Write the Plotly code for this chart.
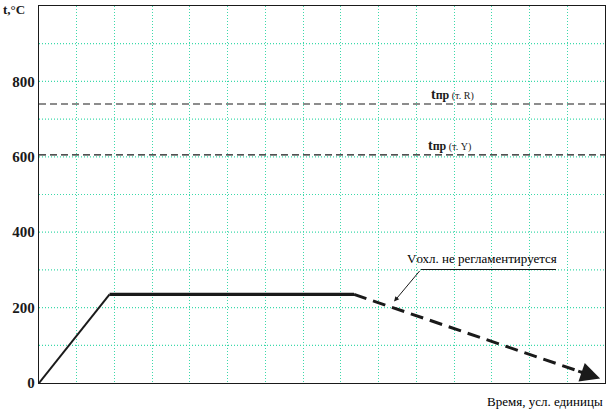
import plotly.graph_objects as go

# ---- data ----
heat_time = [0, 1.87]
heat_temp = [0, 235]
hold_time = [1.87, 8.35]
hold_temp = [235, 235]
cool_time = [8.35, 14.87]
cool_temp = [235, 12]
t_R = 740
t_Y = 605
y_ticks = [0, 200, 400, 600, 800]
x_range = [0, 15]
y_range = [0, 1000]

FONT = "Liberation Serif"
GRID = "#3cd9aa"
INK = "#1a1a1a"

fig = go.Figure()
fig.add_trace(go.Scatter(x=heat_time, y=heat_temp, mode="lines",
                         line=dict(color=INK, width=2), showlegend=False))
fig.add_trace(go.Scatter(x=hold_time, y=hold_temp, mode="lines",
                         line=dict(color=INK, width=3.2), showlegend=False))
fig.add_trace(go.Scatter(x=cool_time, y=cool_temp, mode="lines",
                         line=dict(color=INK, width=3, dash="13px,7px"), showlegend=False))
for v in (t_R, t_Y):
    fig.add_trace(go.Scatter(x=x_range, y=[v, v], mode="lines",
                             line=dict(color=INK, width=1.2, dash="7px,4px"), showlegend=False))

# arrow head at the end of cooling
fig.add_annotation(x=cool_time[-1], y=cool_temp[-1], ax=14.25, ay=33,
                   xref="x", yref="y", axref="x", ayref="y", text="",
                   showarrow=True, arrowhead=2, arrowsize=1.3, arrowwidth=3, arrowcolor=INK)
# leader line
fig.add_annotation(x=9.41, y=216, ax=10.12, ay=301,
                   xref="x", yref="y", axref="x", ayref="y", text="",
                   showarrow=True, arrowhead=2, arrowsize=1, arrowwidth=1, arrowcolor=INK)
fig.add_shape(type="line", x0=10.12, x1=13.7, y0=301, y1=301, xref="x", yref="y",
              line=dict(color=INK, width=1.2))
fig.add_annotation(x=11.73, y=330, xref="x", yref="y", showarrow=False,
                   text="Vохл. не регламентируется", font=dict(family=FONT, size=13, color="#000000"))
fig.add_annotation(x=10.95, y=765, xref="x", yref="y", showarrow=False,
                   text="<b>t<span style='font-size:12px'>пр</span></b><span style='font-size:10px'> (т. R)</span>",
                   font=dict(family=FONT, size=14, color=INK))
fig.add_annotation(x=10.87, y=630, xref="x", yref="y", showarrow=False,
                   text="<b>t<span style='font-size:12px'>пр</span></b><span style='font-size:10px'> (т. Y)</span>",
                   font=dict(family=FONT, size=14, color=INK))
# axis titles
fig.add_annotation(x=0, y=1.0, xref="paper", yref="paper", xanchor="left", yanchor="top",
                   xshift=-38, yshift=6, showarrow=False, text="<b>t,°C</b>",
                   font=dict(family=FONT, size=13, color=INK))
fig.add_annotation(x=1, y=0, xref="paper", yref="paper", xanchor="right", yanchor="top",
                   yshift=-9, showarrow=False, text="Время, усл. единицы",
                   font=dict(family=FONT, size=13, color="#000000"))

fig.update_xaxes(range=x_range, dtick=1, showticklabels=False, ticks="",
                 showgrid=True, gridcolor=GRID, griddash="1px,2px", gridwidth=1.2,
                 showline=True, linecolor=INK, linewidth=1.3, mirror=True, zeroline=False)
fig.update_yaxes(range=y_range, tickvals=y_ticks, ticktext=["<b>%d</b>" % v for v in y_ticks],
                 ticks="", tickfont=dict(family=FONT, size=15, color=INK),
                 showgrid=False, showline=True, linecolor=INK, linewidth=1.3, mirror=True,
                 zeroline=False, automargin=False)
# horizontal grid every 100
for g in range(100, 1000, 100):
    fig.add_shape(type="line", x0=0, x1=1, xref="paper", y0=g, y1=g, yref="y",
                  line=dict(color=GRID, width=1.2, dash="1px,2px"), layer="below")

fig.update_layout(width=607, height=410, margin=dict(l=39, r=2, t=6, b=27),
                  plot_bgcolor="white", paper_bgcolor="white",
                  font=dict(family=FONT, color=INK))
fig.write_html("out.html", config={"displayModeBar": False},
               post_script="document.body.style.margin='0';document.body.style.overflow='hidden';")
